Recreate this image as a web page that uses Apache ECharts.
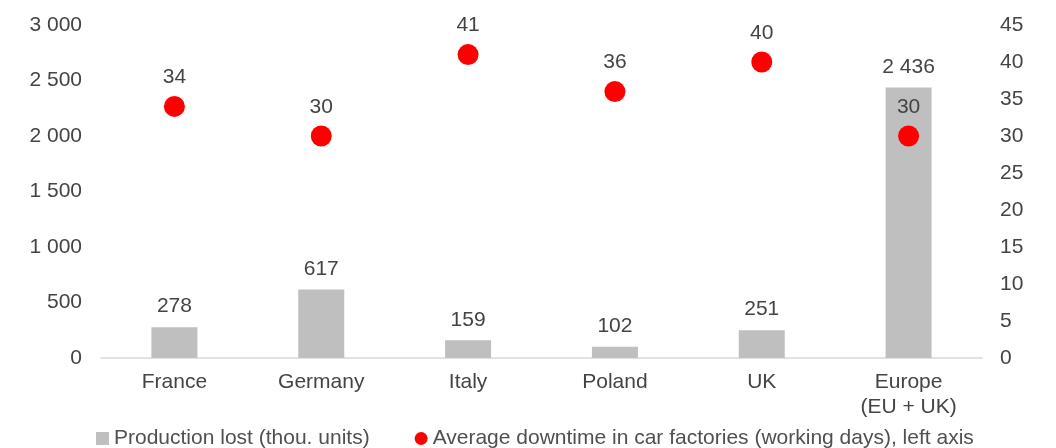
<!DOCTYPE html>
<html><head><meta charset="utf-8">
<script src="https://cdn.jsdelivr.net/npm/echarts@6/dist/echarts.min.js"></script>
<style>html,body{margin:0;padding:0;background:#fff}#c{width:1056px;height:448px}</style>
</head><body><div id="c"></div>
<script>
const categories = ['France','Germany','Italy','Poland','UK','Europe\n(EU + UK)'];
const productionLost = [278, 617, 159, 102, 251, 2436];
const downtimeDays = [34, 30, 41, 36, 40, 30];
const leftTicks = {min: 0, max: 3000, interval: 500};
const rightTicks = {min: 0, max: 45, interval: 5};
const seriesNames = ['Production lost (thou. units)', 'Average downtime in car factories (working days), left axis'];

const fmt = v => String(v).replace(/\B(?=(\d{3})+(?!\d))/g, ' ');
const txt = '#444444';
const font = 'Liberation Sans, Arial, sans-serif';
const FS = 21;
const chart = echarts.init(document.getElementById('c'));
chart.setOption({
  animation: false,
  textStyle: {fontFamily: font},
  grid: {left: 101, right: 74, top: 25, bottom: 90},
  legend: {
    bottom: -6, left: 91, itemGap: 45, itemWidth: 13, itemHeight: 13,
    textStyle: {fontSize: FS, color: '#505050', fontFamily: font},
    data: [{name: seriesNames[0], icon: 'rect', itemStyle: {color: '#BFBFBF'}},
           {name: seriesNames[1], icon: 'circle'}]
  },
  xAxis: {
    type: 'category', data: categories,
    axisLine: {lineStyle: {color: '#D9D9D9', width: 1.5}},
    axisTick: {show: false},
    axisLabel: {fontSize: FS, color: txt, margin: 12, lineHeight: 25, fontFamily: font}
  },
  yAxis: [
    {type: 'value', min: leftTicks.min, max: leftTicks.max, interval: leftTicks.interval,
     splitLine: {show: false}, axisLine: {show: false}, axisTick: {show: false},
     axisLabel: {fontSize: FS, color: txt, margin: 19, formatter: fmt, fontFamily: font}},
    {type: 'value', min: rightTicks.min, max: rightTicks.max, interval: rightTicks.interval,
     splitLine: {show: false}, axisLine: {show: false}, axisTick: {show: false},
     axisLabel: {fontSize: FS, color: txt, margin: 18, fontFamily: font}}
  ],
  series: [
    {name: seriesNames[0], type: 'bar', data: productionLost, barWidth: 46,
     itemStyle: {color: '#BFBFBF'},
     label: {show: true, position: 'top', distance: 10, fontSize: FS, color: txt, formatter: p => fmt(p.value), fontFamily: font}},
    {name: seriesNames[1], type: 'scatter', yAxisIndex: 1, data: downtimeDays, symbolSize: 21,
     itemStyle: {color: '#FF0000', opacity: 1},
     label: {show: true, position: 'top', distance: 8, fontSize: FS, color: txt, fontFamily: font}}
  ]
});
</script></body></html>
